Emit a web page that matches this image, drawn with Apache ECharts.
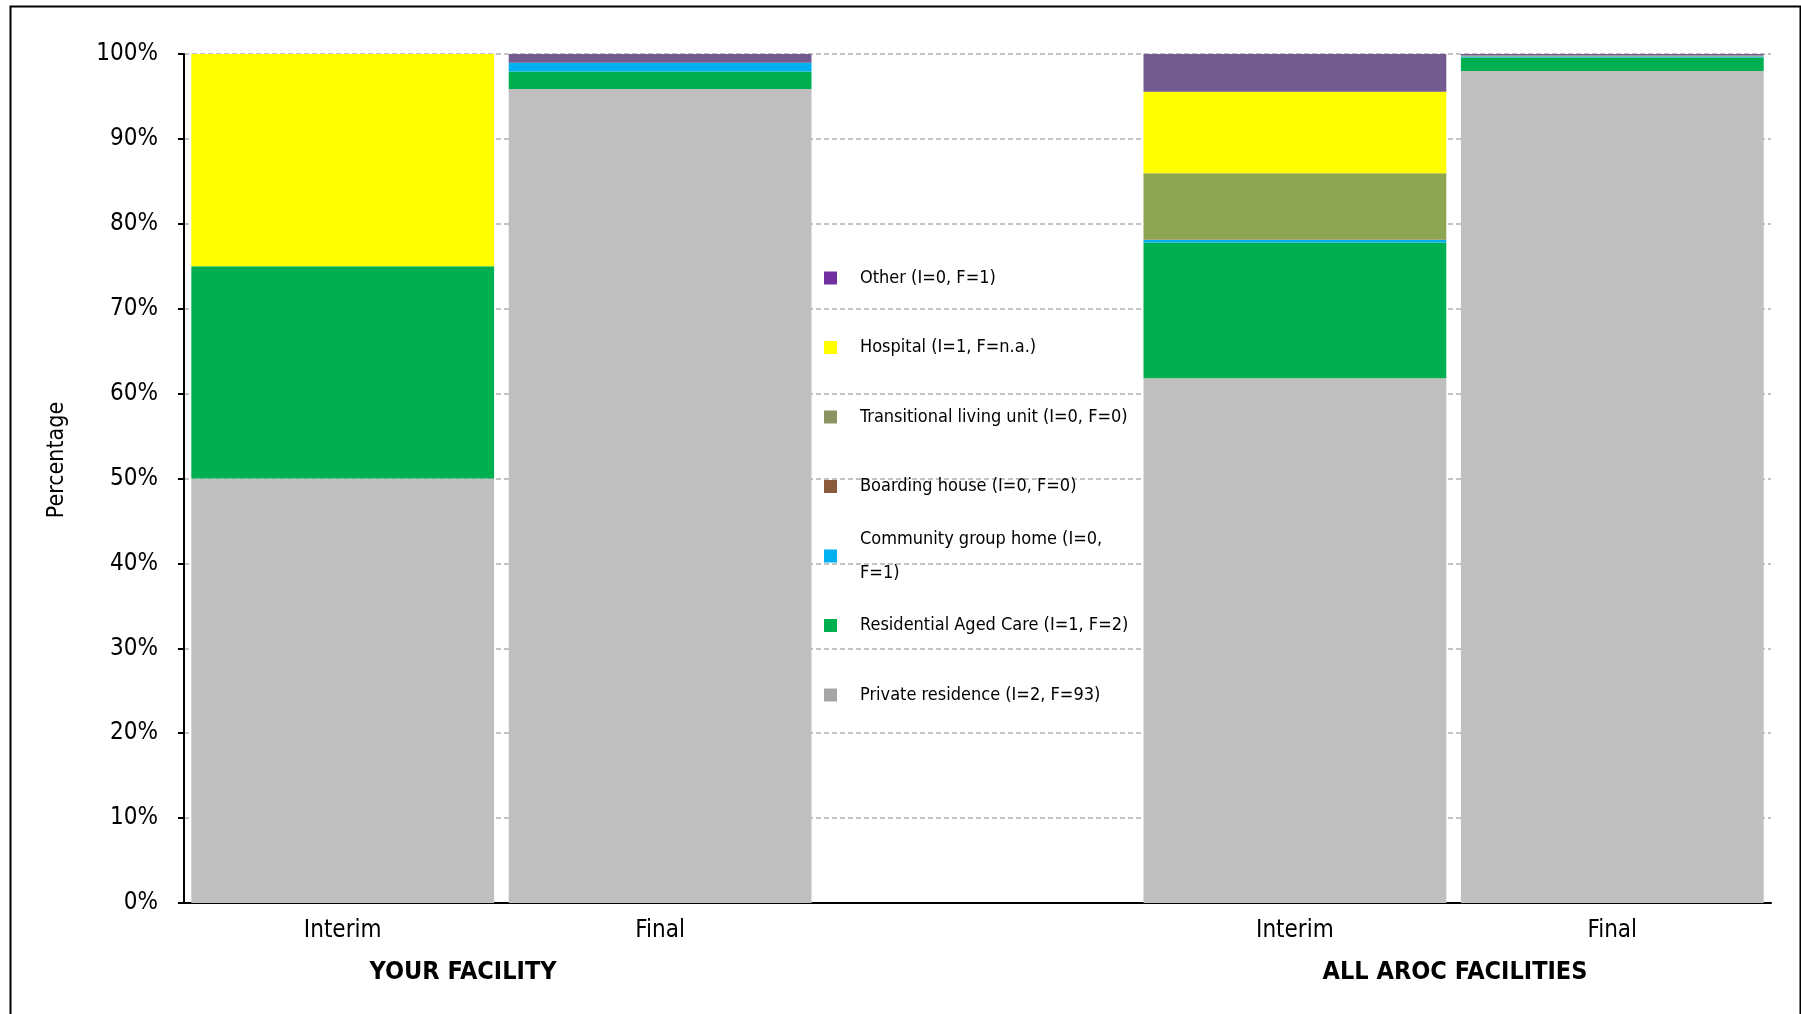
<!DOCTYPE html>
<html>
<head>
<meta charset="utf-8">
<script src="https://cdn.jsdelivr.net/npm/echarts@6/dist/echarts.min.js"></script>
<style>
html,body{margin:0;padding:0;background:#fff;}
#chart{width:1801px;height:1014px;}
</style>
</head>
<body>
<div id="chart"></div>
<script>
// ---- data ----
var categories = ['Interim', 'Final', '', 'Interim', 'Final'];
var groupLabels = ['YOUR FACILITY', 'ALL AROC FACILITIES'];
var yAxisTitle = 'Percentage';

var privateResidence = [50, 95.88, null, 61.8, 98.0];
var residentialAgedCare = [25, 2.06, null, 16.0, 1.6];
var communityGroupHome = [0, 1.03, null, 0.3, 0.1];
var boardingHouse = [0, 0, null, 0.05, 0.02];
var transitionalLiving = [0, 0, null, 7.8, 0.1];
var hospital = [25, 0, null, 9.6, 0];
var other = [0, 1.03, null, 4.45, 0.18];

var seriesNames = [
  'Private residence (I=2, F=93)',
  'Residential Aged Care (I=1, F=2)',
  'Community group home (I=0, F=1)',
  'Boarding house (I=0, F=0)',
  'Transitional living unit (I=0, F=0)',
  'Hospital (I=1, F=n.a.)',
  'Other (I=0, F=1)'
];
var seriesValues = [privateResidence, residentialAgedCare, communityGroupHome, boardingHouse, transitionalLiving, hospital, other];
var barColors = ['#BFBFBF', '#00B050', '#00B0F0', '#8B5A3C', '#8BA550', '#FFFF00', '#735A8F'];
var legendColors = ['#A6A6A6', '#00B050', '#00B0F0', '#8B5A3C', '#8B9460', '#FFFF00', '#7030A0'];

// ---- chart ----
var NARROW = '"DejaVu Sans Condensed", "Liberation Sans Narrow", "Liberation Sans", Arial, sans-serif';

var series = seriesNames.map(function (n, i) {
  return {
    name: n,
    type: 'bar',
    stack: 'total',
    barCategoryGap: '4.6%',
    data: seriesValues[i],
    itemStyle: { color: barColors[i] },
    emphasis: { disabled: true }
  };
});

// legend: top-to-bottom order is reverse of stacking order
var legends = [];
var legendCenterTop = 273, legendStep = 69.5, LH = 34;
for (var k = 0; k < seriesNames.length; k++) {
  var idx = seriesNames.length - 1 - k;
  var name = seriesNames[idx];
  var lines = (name.indexOf('Community') === 0) ? 2 : 1;
  legends.push({
    orient: 'vertical',
    left: 819,
    top: legendCenterTop + k * legendStep - lines * LH / 2,
    itemWidth: 13,
    itemHeight: 13,
    icon: 'rect',
    selectedMode: false,
    data: [{ name: name, itemStyle: { color: legendColors[idx] } }],
    formatter: function (nm) {
      return nm.indexOf('Community') === 0 ? nm.replace('(I=0, F=1)', '(I=0,\nF=1)') : nm;
    },
    textStyle: {
      fontFamily: NARROW,
      fontSize: 18,
      color: '#000',
      lineHeight: LH,
      padding: [0, 0, 0, 18]
    }
  });
}

var chart = echarts.init(document.getElementById('chart'), null, { renderer: 'canvas' });
chart.setOption({
  backgroundColor: '#fff',
  animation: false,
  grid: { left: 184, right: 30, top: 54, bottom: 111, containLabel: false },
  legend: legends,
  xAxis: {
    type: 'category',
    data: categories,
    axisLine: { lineStyle: { color: '#000', width: 2 } },
    axisTick: { show: false },
    axisLabel: { fontFamily: NARROW, fontSize: 24, color: '#000', margin: 16, interval: 0 }
  },
  yAxis: {
    type: 'value',
    min: 0,
    max: 100,
    interval: 10,
    axisLine: { show: true, lineStyle: { color: '#000', width: 2 } },
    axisTick: { show: true, inside: false, length: 6, lineStyle: { color: '#000', width: 2 } },
    axisLabel: { fontFamily: NARROW, fontSize: 24, color: '#000', margin: 26, formatter: '{value}%' },
    splitLine: { show: true, lineStyle: { color: '#B0B0B0', width: 1.5, type: [5, 3] } }
  },
  graphic: [
    { type: 'rect', left: 8, top: 4, shape: { width: 1790, height: 1030 }, style: { fill: 'none', stroke: '#000', lineWidth: 2 }, silent: true, z: -1 },
    { type: 'text', x: 57, y: 460, rotation: Math.PI / 2, style: { text: yAxisTitle, fontFamily: NARROW, fontSize: 23, fill: '#000', align: 'center', verticalAlign: 'middle' } },
    { type: 'text', x: 463, y: 972, style: { text: groupLabels[0], fontFamily: NARROW, fontWeight: 'bold', fontSize: 25, fill: '#000', align: 'center', verticalAlign: 'middle' } },
    { type: 'text', x: 1455, y: 972, style: { text: groupLabels[1], fontFamily: NARROW, fontWeight: 'bold', fontSize: 25, fill: '#000', align: 'center', verticalAlign: 'middle' } }
  ],
  series: series
});
</script>
</body>
</html>
